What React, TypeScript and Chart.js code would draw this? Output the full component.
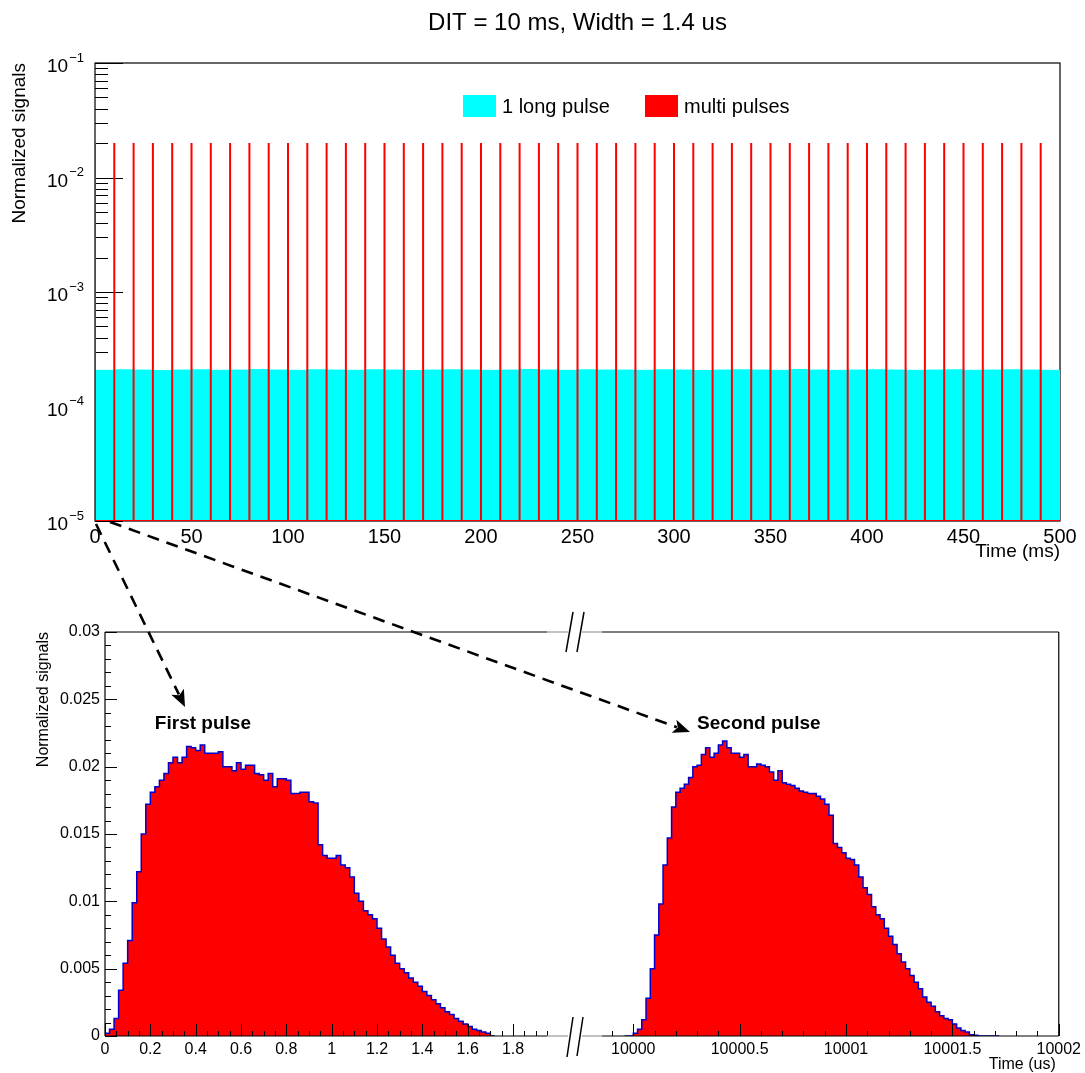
import React, { useEffect, useRef } from 'react';
import { Chart, registerables } from 'chart.js';

Chart.register(...registerables);

const FONT = '"Liberation Sans", Arial, Helvetica, sans-serif';
Chart.defaults.font.family = FONT;
Chart.defaults.color = '#000';

// ---------------- text ----------------
const TITLE = 'DIT = 10 ms, Width = 1.4 us';
const Y_TITLE = 'Normalized signals';
const TOP_X_TITLE = 'Time (ms)';
const BOTTOM_X_TITLE = 'Time (us)';
const LEGEND_LONG = '1 long pulse';
const LEGEND_MULTI = 'multi pulses';
const FIRST_LABEL = 'First pulse';
const SECOND_LABEL = 'Second pulse';

// ---------------- top panel data ----------------
const pulseTimesMs = [
  0, 10, 20, 30, 40, 50, 60, 70, 80, 90, 100, 110, 120, 130, 140, 150, 160, 170, 180, 190,
  200, 210, 220, 230, 240, 250, 260, 270, 280, 290, 300, 310, 320, 330, 340, 350, 360, 370, 380, 390,
  400, 410, 420, 430, 440, 450, 460, 470, 480, 490,
];
const pulseHeights = [
  0.02, 0.02, 0.02, 0.02, 0.02, 0.02, 0.02, 0.02, 0.02, 0.02, 0.02, 0.02, 0.02, 0.02, 0.02, 0.02, 0.02,
  0.02, 0.02, 0.02, 0.02, 0.02, 0.02, 0.02, 0.02, 0.02, 0.02, 0.02, 0.02, 0.02, 0.02, 0.02, 0.02, 0.02,
  0.02, 0.02, 0.02, 0.02, 0.02, 0.02, 0.02, 0.02, 0.02, 0.02, 0.02, 0.02, 0.02, 0.02, 0.02, 0.02,
];
const longPulseBinStartMs = [
  0, 10, 20, 30, 40, 50, 60, 70, 80, 90, 100, 110, 120, 130, 140, 150, 160, 170, 180, 190,
  200, 210, 220, 230, 240, 250, 260, 270, 280, 290, 300, 310, 320, 330, 340, 350, 360, 370, 380, 390,
  400, 410, 420, 430, 440, 450, 460, 470, 480, 490,
];
const longPulseEndMs = 500;
const longPulseValues = [
  2.07e-4, 2.09e-4, 2.08e-4, 2.06e-4, 2.08e-4, 2.09e-4, 2.07e-4, 2.08e-4, 2.1e-4, 2.08e-4,
  2.07e-4, 2.09e-4, 2.08e-4, 2.07e-4, 2.09e-4, 2.08e-4, 2.06e-4, 2.08e-4, 2.09e-4, 2.08e-4,
  2.07e-4, 2.08e-4, 2.1e-4, 2.08e-4, 2.07e-4, 2.09e-4, 2.08e-4, 2.08e-4, 2.07e-4, 2.09e-4,
  2.08e-4, 2.06e-4, 2.08e-4, 2.09e-4, 2.08e-4, 2.07e-4, 2.1e-4, 2.08e-4, 2.07e-4, 2.08e-4,
  2.09e-4, 2.08e-4, 2.07e-4, 2.08e-4, 2.09e-4, 2.07e-4, 2.08e-4, 2.09e-4, 2.08e-4, 2.07e-4,
];
const topXTicks = [0, 50, 100, 150, 200, 250, 300, 350, 400, 450, 500];
const topYDecadeExponents = [-5, -4, -3, -2, -1];
const TOP_Y_MIN = 1e-5;
const TOP_Y_MAX = 1e-1;

// ---------------- bottom panel data ----------------
const pulseBinWidthUs = 0.02;
const firstPulseStartUs = 0;
const firstPulseValues = [
  0.0002, 0.0005, 0.0013, 0.0034, 0.0054, 0.0071, 0.0099, 0.0122, 0.015, 0.0172,
  0.0181, 0.0185, 0.019, 0.0195, 0.0203, 0.0207, 0.0203, 0.0207, 0.0215, 0.0214,
  0.0212, 0.0216, 0.021, 0.021, 0.021, 0.0211, 0.02, 0.02, 0.0197, 0.0203,
  0.0198, 0.0201, 0.0201, 0.0195, 0.0194, 0.019, 0.0195, 0.0185, 0.0191, 0.0191,
  0.019, 0.018, 0.018, 0.0181, 0.0181, 0.0174, 0.0173, 0.0142, 0.0134, 0.0132,
  0.0132, 0.0134, 0.0127, 0.0125, 0.0118, 0.0106, 0.01, 0.0093, 0.009, 0.0087,
  0.008, 0.0072, 0.0066, 0.006, 0.0054, 0.005, 0.0047, 0.0043, 0.004, 0.0037,
  0.0033, 0.003, 0.0027, 0.0024, 0.0021, 0.0018, 0.0016, 0.0013, 0.0011, 0.0009,
  0.0007, 0.0005, 0.0004, 0.0003, 0.0002, 0,
];
const secondPulseStartUs = 9999.96;
const secondPulseValues = [
  0, 0,
  0.0002, 0.0005, 0.0012, 0.0028, 0.005, 0.0075, 0.0098, 0.0127, 0.0147, 0.017,
  0.0181, 0.0184, 0.0187, 0.0192, 0.02, 0.0201, 0.0209, 0.0214, 0.0207, 0.021,
  0.0216, 0.0219, 0.0214, 0.021, 0.021, 0.0207, 0.0209, 0.02, 0.02, 0.0202,
  0.0201, 0.02, 0.0196, 0.019, 0.0197, 0.0188, 0.0187, 0.0186, 0.0184, 0.0182,
  0.0181, 0.018, 0.018, 0.0178, 0.0176, 0.0172, 0.0164, 0.0143, 0.014, 0.0136,
  0.0132, 0.0131, 0.0127, 0.0118, 0.011, 0.0105, 0.0096, 0.009, 0.0087, 0.008,
  0.0074, 0.0068, 0.0061, 0.0055, 0.005, 0.0045, 0.004, 0.0035, 0.0029, 0.0025,
  0.0022, 0.0018, 0.0015, 0.0013, 0.0012, 0.0009, 0.0006, 0.0004, 0.0003, 0.0001,
  0.00005, 0, 0, 0, 0, 0,
];
const leftXTicks = [0, 0.2, 0.4, 0.6, 0.8, 1, 1.2, 1.4, 1.6, 1.8];
const rightXTicks = [10000, 10000.5, 10001, 10001.5, 10002];
const bottomYTicks = [0, 0.005, 0.01, 0.015, 0.02, 0.025, 0.03];
const LEFT_X_MIN = 0;
const LEFT_X_MAX = 1.95;
const RIGHT_X_MIN = 9999.853;
const RIGHT_X_MAX = 10002;
const BOTTOM_Y_MAX = 0.03;

// label anchors in data coordinates
const firstLabelAt = { x: 0.22, y: 0.0232 };
const secondLabelAt = { x: 10000.3, y: 0.0232 };

// ---------------- helpers ----------------
function seg(ctx: CanvasRenderingContext2D, x1: number, y1: number, x2: number, y2: number) {
  ctx.beginPath();
  ctx.moveTo(x1, y1);
  ctx.lineTo(x2, y2);
  ctx.stroke();
}

function histPoints(start: number, width: number, values: number[]) {
  const pts = values.map((v, i) => ({ x: start + i * width, y: v }));
  pts.push({ x: start + values.length * width, y: values[values.length - 1] });
  return pts;
}

function spikePoints() {
  const pts: { x: number; y: number }[] = [{ x: 0, y: TOP_Y_MIN }];
  pulseTimesMs.forEach((t, i) => {
    pts.push({ x: t, y: TOP_Y_MIN });
    pts.push({ x: t, y: pulseHeights[i] });
    pts.push({ x: t, y: TOP_Y_MIN });
  });
  pts.push({ x: longPulseEndMs, y: TOP_Y_MIN });
  return pts;
}

function longPulsePoints() {
  const pts = longPulseValues.map((v, i) => ({ x: longPulseBinStartMs[i], y: v }));
  pts.push({ x: longPulseEndMs, y: longPulseValues[longPulseValues.length - 1] });
  return pts;
}

const topDecor = {
  id: 'topDecor',
  beforeDatasetsDraw(chart: any) {
    const { ctx, chartArea: a } = chart;
    const y = chart.scales.y;
    ctx.save();
    ctx.strokeStyle = '#000';
    ctx.lineWidth = 1;
    const lastExp = topYDecadeExponents[topYDecadeExponents.length - 1];
    topYDecadeExponents.forEach((e) => {
      const d = Math.pow(10, e);
      const py = Math.round(y.getPixelForValue(d)) + 0.5;
      seg(ctx, a.left, py, a.left + 28, py);
      if (e < lastExp) {
        for (let k = 2; k <= 9; k++) {
          const pm = Math.round(y.getPixelForValue(k * d)) + 0.5;
          seg(ctx, a.left, pm, a.left + 13, pm);
        }
      }
    });
    ctx.lineWidth = 1.2;
    ctx.strokeRect(a.left, a.top, a.right - a.left, a.bottom - a.top);
    ctx.restore();
  },
  afterDraw(chart: any) {
    const { ctx, chartArea: a } = chart;
    const y = chart.scales.y;
    ctx.save();
    ctx.fillStyle = '#000';
    // title
    ctx.font = `24px ${FONT}`;
    ctx.textAlign = 'center';
    ctx.textBaseline = 'middle';
    ctx.fillText(TITLE, (a.left + a.right) / 2, 23);
    // y tick labels 10^e
    topYDecadeExponents.forEach((e) => {
      const py = y.getPixelForValue(Math.pow(10, e));
      const sup = '\u2212' + Math.abs(e);
      ctx.font = `13px ${FONT}`;
      ctx.textAlign = 'right';
      ctx.textBaseline = 'middle';
      const sw = ctx.measureText(sup).width;
      ctx.fillText(sup, a.left - 11, py - 5);
      ctx.font = `19px ${FONT}`;
      ctx.fillText('10', a.left - 12 - sw, py + 4);
    });
    // x title
    ctx.font = `19px ${FONT}`;
    ctx.textAlign = 'right';
    ctx.textBaseline = 'middle';
    ctx.fillText(TOP_X_TITLE, a.right, 552);
    // y title
    ctx.save();
    ctx.translate(20, a.top);
    ctx.rotate(-Math.PI / 2);
    ctx.textAlign = 'right';
    ctx.textBaseline = 'middle';
    ctx.font = `19px ${FONT}`;
    ctx.fillText(Y_TITLE, 0, 0);
    ctx.restore();
    // legend
    ctx.textAlign = 'left';
    ctx.textBaseline = 'middle';
    ctx.font = `20px ${FONT}`;
    ctx.fillStyle = '#00ffff';
    ctx.fillRect(463, 95, 33, 22);
    ctx.fillStyle = '#000';
    ctx.fillText(LEGEND_LONG, 502, 107);
    ctx.fillStyle = '#ff0000';
    ctx.fillRect(645, 95, 33, 22);
    ctx.fillStyle = '#000';
    ctx.fillText(LEGEND_MULTI, 684, 107);
    ctx.restore();
  },
};

function bottomDecor(side: 'left' | 'right') {
  return {
    id: 'bottomDecor_' + side,
    afterDatasetsDraw(chart: any) {
      const { ctx, chartArea: a } = chart;
      const x = chart.scales.x;
      const y = chart.scales.y;
      ctx.save();
      ctx.strokeStyle = '#000';
      ctx.lineWidth = 1;
      if (side === 'left') {
        for (let i = 0; i <= 30; i++) {
          const py = Math.round(y.getPixelForValue(i * 0.001)) + 0.5;
          seg(ctx, a.left, py, a.left + (i % 5 === 0 ? 12 : 6), py);
        }
        for (let i = 0; i * 0.05 <= x.max + 1e-9; i++) {
          const px = Math.round(x.getPixelForValue(i * 0.05)) + 0.5;
          seg(ctx, px, a.bottom, px, a.bottom - (i % 4 === 0 ? 12 : 5));
        }
        ctx.lineWidth = 1.2;
        seg(ctx, a.left, a.top, a.left, a.bottom);
        seg(ctx, a.left, a.top, a.right, a.top);
        seg(ctx, a.left, a.bottom, a.right, a.bottom);
        // y title
        ctx.save();
        ctx.fillStyle = '#000';
        ctx.translate(44, a.top);
        ctx.rotate(-Math.PI / 2);
        ctx.textAlign = 'right';
        ctx.textBaseline = 'middle';
        ctx.font = `16px ${FONT}`;
        ctx.fillText(Y_TITLE, 0, 0);
        ctx.restore();
        ctx.fillStyle = '#000';
        ctx.font = `bold 19px ${FONT}`;
        ctx.textAlign = 'left';
        ctx.textBaseline = 'middle';
        ctx.fillText(FIRST_LABEL, x.getPixelForValue(firstLabelAt.x), y.getPixelForValue(firstLabelAt.y));
      } else {
        const startTick = Math.ceil(x.min * 10 - 1e-6);
        for (let i = startTick; i / 10 <= x.max + 1e-9; i++) {
          const px = Math.round(x.getPixelForValue(i / 10)) + 0.5;
          seg(ctx, px, a.bottom, px, a.bottom - (i % 5 === 0 ? 12 : 5));
        }
        ctx.lineWidth = 1.2;
        seg(ctx, a.right, a.top, a.right, a.bottom);
        seg(ctx, a.left, a.top, a.right, a.top);
        seg(ctx, a.left, a.bottom, a.right, a.bottom);
        ctx.fillStyle = '#000';
        ctx.font = `16px ${FONT}`;
        ctx.textAlign = 'right';
        ctx.textBaseline = 'middle';
        ctx.fillText(BOTTOM_X_TITLE, a.right - 3, 465);
        ctx.font = `bold 19px ${FONT}`;
        ctx.textAlign = 'left';
        ctx.fillText(SECOND_LABEL, x.getPixelForValue(secondLabelAt.x), y.getPixelForValue(secondLabelAt.y));
      }
      ctx.restore();
    },
  };
}

const numLabel = (v: any) => String(Math.round(Number(v) * 100000) / 100000);

function histDataset(start: number, values: number[]) {
  return {
    data: histPoints(start, pulseBinWidthUs, values),
    stepped: 'before' as const,
    borderColor: '#0000c8',
    borderWidth: 1.5,
    backgroundColor: '#ff0000',
    fill: 'origin',
    pointRadius: 0,
  };
}

function Arrow({ x1, y1, x2, y2 }: { x1: number; y1: number; x2: number; y2: number }) {
  const dx = x2 - x1;
  const dy = y2 - y1;
  const L = Math.hypot(dx, dy);
  const ux = dx / L;
  const uy = dy / L;
  const head = 17;
  const hw = 7;
  const bx = x2 - ux * head;
  const by = y2 - uy * head;
  const pts = `${x2},${y2} ${bx - uy * hw},${by + ux * hw} ${bx + ux * 4},${by + uy * 4} ${bx + uy * hw},${by - ux * hw}`;
  return (
    <g>
      <line x1={x1} y1={y1} x2={bx + ux * 3} y2={by + uy * 3} stroke="#000" strokeWidth={2.6} strokeDasharray="12 8" />
      <polygon points={pts} fill="#000" />
    </g>
  );
}

export default function App() {
  const topRef = useRef<HTMLCanvasElement>(null);
  const leftRef = useRef<HTMLCanvasElement>(null);
  const rightRef = useRef<HTMLCanvasElement>(null);

  useEffect(() => {
    const common = {
      responsive: false,
      animation: false as const,
      devicePixelRatio: 1,
      events: [] as any[],
    };
    const noGrid = { display: false, drawTicks: false };

    const top = new Chart(topRef.current!, {
      type: 'line',
      data: {
        datasets: [
          {
            label: LEGEND_MULTI,
            data: spikePoints(),
            borderColor: '#ff0000',
            borderWidth: 2,
            pointRadius: 0,
            fill: false,
          },
          {
            label: LEGEND_LONG,
            data: longPulsePoints(),
            borderColor: '#00ffff',
            borderWidth: 1,
            backgroundColor: '#00ffff',
            pointRadius: 0,
            stepped: 'before',
            fill: 'start',
          },
        ],
      },
      options: {
        ...common,
        layout: { padding: { left: 0, right: 25, top: 63, bottom: 19 } },
        plugins: { legend: { display: false }, tooltip: { enabled: false } },
        scales: {
          x: {
            type: 'linear',
            min: 0,
            max: longPulseEndMs,
            afterBuildTicks: (s: any) => {
              s.ticks = topXTicks.map((v) => ({ value: v }));
            },
            afterFit: (s: any) => {
              s.height = 40;
            },
            ticks: { font: { size: 20 }, color: '#000', padding: 4, maxRotation: 0, autoSkip: false, callback: numLabel },
            grid: noGrid,
            border: { display: false },
          },
          y: {
            type: 'logarithmic',
            min: TOP_Y_MIN,
            max: TOP_Y_MAX,
            afterFit: (s: any) => {
              s.width = 95;
            },
            ticks: { display: false },
            grid: noGrid,
            border: { display: false },
          },
        },
      } as any,
      plugins: [topDecor],
    });

    const makeBottom = (canvas: HTMLCanvasElement, side: 'left' | 'right') => {
      const isLeft = side === 'left';
      return new Chart(canvas, {
        type: 'line',
        data: {
          datasets: [
            isLeft
              ? histDataset(firstPulseStartUs, firstPulseValues)
              : histDataset(secondPulseStartUs, secondPulseValues),
          ],
        },
        options: {
          ...common,
          layout: {
            padding: isLeft
              ? { left: 0, right: 13, top: 32, bottom: 7 }
              : { left: 42, right: 24, top: 32, bottom: 7 },
          },
          plugins: { legend: { display: false }, tooltip: { enabled: false } },
          scales: {
            x: {
              type: 'linear',
              min: isLeft ? LEFT_X_MIN : RIGHT_X_MIN,
              max: isLeft ? LEFT_X_MAX : RIGHT_X_MAX,
              afterBuildTicks: (s: any) => {
                s.ticks = (isLeft ? leftXTicks : rightXTicks).map((v) => ({ value: v }));
              },
              afterFit: (s: any) => {
                s.height = 30;
              },
              ticks: { font: { size: 16 }, color: '#000', padding: 4, maxRotation: 0, autoSkip: false, callback: numLabel },
              grid: noGrid,
              border: { display: false },
            },
            y: {
              type: 'linear',
              min: 0,
              max: BOTTOM_Y_MAX,
              display: isLeft,
              afterBuildTicks: (s: any) => {
                s.ticks = bottomYTicks.map((v) => ({ value: v }));
              },
              afterFit: (s: any) => {
                s.width = isLeft ? 105 : 0;
              },
              ticks: { font: { size: 16 }, color: '#000', padding: 5, autoSkip: false, callback: numLabel },
              grid: noGrid,
              border: { display: false },
            },
          },
        } as any,
        plugins: [bottomDecor(side)],
      });
    };
    const left = makeBottom(leftRef.current!, 'left');
    const right = makeBottom(rightRef.current!, 'right');

    return () => {
      top.destroy();
      left.destroy();
      right.destroy();
    };
  }, []);

  return (
    <div style={{ position: 'absolute', left: 0, top: 0, width: 1085, height: 1073, background: '#fff', overflow: 'hidden' }}>
      <canvas ref={topRef} width={1085} height={580} style={{ position: 'absolute', left: 0, top: 0, display: 'block' }} />
      <canvas ref={leftRef} width={560} height={473} style={{ position: 'absolute', left: 0, top: 600, display: 'block' }} />
      <canvas ref={rightRef} width={525} height={473} style={{ position: 'absolute', left: 560, top: 600, display: 'block' }} />
      <svg width={1085} height={1073} style={{ position: 'absolute', left: 0, top: 0, pointerEvents: 'none' }}>
        <line x1={547} y1={632} x2={568} y2={632} stroke="#999" strokeWidth={1.2} />
        <line x1={582} y1={632} x2={602} y2={632} stroke="#999" strokeWidth={1.2} />
        <line x1={547} y1={1036} x2={568} y2={1036} stroke="#999" strokeWidth={1.2} />
        <line x1={582} y1={1036} x2={602} y2={1036} stroke="#999" strokeWidth={1.2} />
        <line x1={566} y1={652} x2={573} y2={612} stroke="#000" strokeWidth={1.5} />
        <line x1={577} y1={652} x2={584} y2={612} stroke="#000" strokeWidth={1.5} />
        <line x1={567} y1={1057} x2={573} y2={1017} stroke="#000" strokeWidth={1.5} />
        <line x1={577} y1={1056} x2={583} y2={1017} stroke="#000" strokeWidth={1.5} />
        <Arrow x1={96} y1={524} x2={185} y2={707} />
        <Arrow x1={110} y1={522} x2={690} y2={732} />
      </svg>
    </div>
  );
}
